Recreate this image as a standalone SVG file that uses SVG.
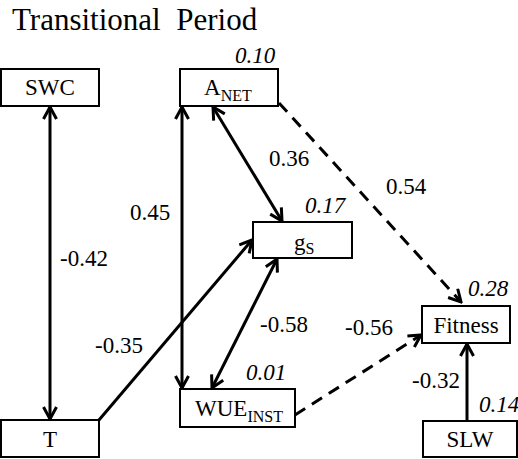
<svg xmlns="http://www.w3.org/2000/svg" width="518" height="459" viewBox="0 0 518 459">
<style>
text{font-family:'Liberation Serif','Times New Roman',Times,'DejaVu Serif',serif;fill:#000}
.box{fill:#fff;stroke:#000;stroke-width:2}
.t{font-size:23px}
.sub{font-size:16px}
.n{font-size:23px}
.i{font-size:23px;font-style:italic}
.c{fill:none;stroke:#000;stroke-width:3}
.d{stroke-dasharray:12 8}
</style>
<defs>
<marker id="ah" markerUnits="userSpaceOnUse" viewBox="0 0 16 16" markerWidth="16" markerHeight="16" refX="14" refY="8" orient="auto-start-reverse">
<path d="M2,1.5 L14,8 L2,14.5" fill="none" stroke="#000" stroke-width="3"/>
</marker>
</defs>
<rect width="518" height="459" fill="#fff"/>
<text x="12" y="30" font-size="31" xml:space="preserve">Transitional  Period</text>
<g id="connectors">
<line class="c" x1="50" y1="107" x2="50" y2="419" marker-start="url(#ah)" marker-end="url(#ah)"/>
<line class="c" x1="182" y1="107" x2="182" y2="388" marker-start="url(#ah)" marker-end="url(#ah)"/>
<line class="c" x1="213" y1="107" x2="282" y2="221" marker-start="url(#ah)" marker-end="url(#ah)"/>
<line class="c" x1="277" y1="259" x2="212" y2="388" marker-start="url(#ah)" marker-end="url(#ah)"/>
<line class="c" x1="99" y1="420" x2="252" y2="240" marker-end="url(#ah)"/>
<line class="c d" x1="279" y1="103" x2="461" y2="302" marker-end="url(#ah)"/>
<line class="c d" x1="295" y1="415" x2="421" y2="335" marker-end="url(#ah)"/>
<line class="c" x1="467" y1="421" x2="467" y2="344" marker-end="url(#ah)"/>
</g>
<g id="SWC"><rect class="box" x="1" y="69" width="98" height="37"/><text class="t" x="50" y="95" text-anchor="middle">SWC</text></g>
<g id="ANET"><rect class="box" x="180" y="69" width="98" height="37"/><text class="t" x="204" y="95">A<tspan class="sub" dy="6">NET</tspan></text><text class="i" x="235" y="63">0.10</text></g>
<g id="gS"><rect class="box" x="253" y="222" width="99" height="36"/><text class="t" x="294" y="250">g<tspan class="sub" dy="4">S</tspan></text><text class="i" x="305" y="213">0.17</text></g>
<g id="Fitness"><rect class="box" x="422" y="306" width="88" height="37"/><text class="t" x="466" y="333" text-anchor="middle">Fitness</text><text class="i" x="468" y="296">0.28</text></g>
<g id="T"><rect class="box" x="1" y="420" width="98" height="37"/><text class="t" x="50" y="447" text-anchor="middle">T</text></g>
<g id="WUEINST"><rect class="box" x="180" y="389" width="115" height="38"/><text class="t" x="195" y="416">WUE<tspan class="sub" dy="6">INST</tspan></text><text class="i" x="246" y="380">0.01</text></g>
<g id="SLW"><rect class="box" x="423" y="421" width="94" height="36"/><text class="t" x="470" y="447" text-anchor="middle">SLW</text><text class="i" x="479" y="412">0.14</text></g>
<g id="labels">
<text class="n" x="60" y="266">-0.42</text>
<text class="n" x="130" y="220">0.45</text>
<text class="n" x="269" y="166">0.36</text>
<text class="n" x="386" y="194">0.54</text>
<text class="n" x="95" y="353">-0.35</text>
<text class="n" x="260" y="332">-0.58</text>
<text class="n" x="345" y="335">-0.56</text>
<text class="n" x="412" y="388">-0.32</text>
</g>
</svg>
